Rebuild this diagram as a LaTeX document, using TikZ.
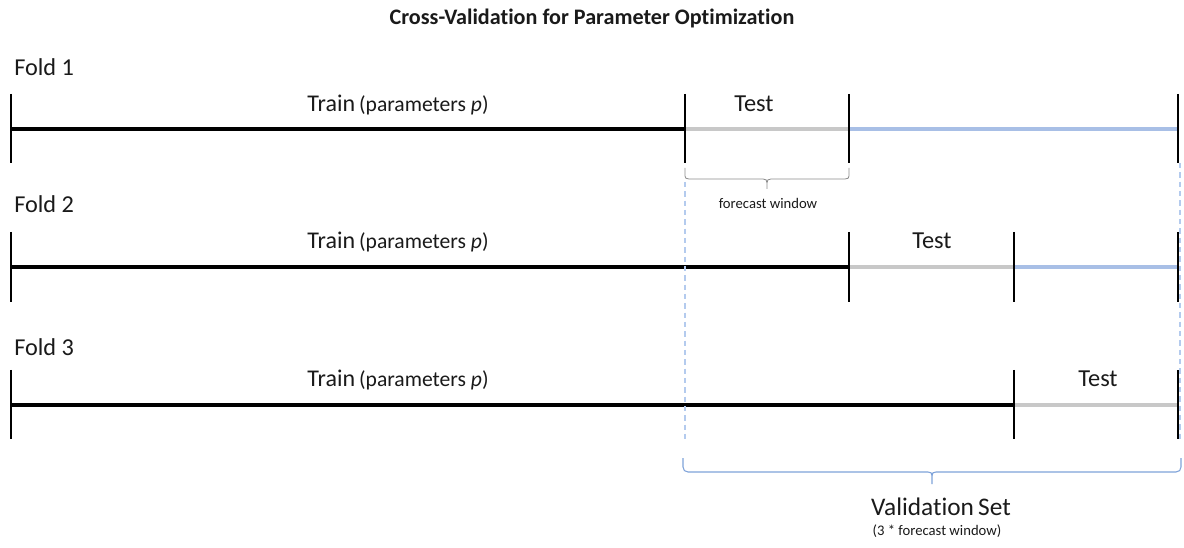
\documentclass[tikz,border=0pt]{standalone}
\usepackage{fontspec}
\setmainfont{Carlito}[Ligatures=NoCommon]
\definecolor{txt}{HTML}{1A1A1A}
\definecolor{testgray}{HTML}{C8C8C8}
\definecolor{valblue}{HTML}{A8BFE6}
\definecolor{dashblue}{HTML}{B4CBEE}
\definecolor{braceblue}{HTML}{7FA3DA}
\definecolor{bracegray}{HTML}{8C8C8C}
\tikzset{
  trainline/.style={line width=3pt, black},
  testline/.style={line width=3pt, testgray},
  restline/.style={line width=3pt, valblue},
  tickline/.style={line width=1.4pt, black},
  guide/.style={dashed, dashblue, line width=0.8pt, dash pattern=on 4pt off 3pt},
  foldlbl/.style={anchor=base west, inner sep=0pt, font=\fontsize{18.2}{21}\selectfont, text=txt},
  trainlbl/.style={anchor=base, inner sep=0pt, font=\fontsize{18}{21}\selectfont, text=txt},
  testlbl/.style={anchor=base, inner sep=0pt, font=\fontsize{18.3}{21}\selectfont, text=txt},
}
\newcommand{\paramtxt}{{\fontsize{16.2}{19}\selectfont (parameters \textit{p})}}
\begin{document}
\begin{tikzpicture}[x=0.75pt,y=-0.75pt]
\useasboundingbox[fill=white] (0,0) rectangle (1184,548);

% title
\node[inner sep=0pt, font=\bfseries\fontsize{16.6}{20}\selectfont, text=txt] (title) at (592,18) {Cross-Validation for Parameter Optimization};

% ---------- Fold 1 ----------
\node[foldlbl] (f1) at (14,76) {Fold 1};
\coordinate (a1) at (11,129);
\coordinate (b1) at (685,129);
\coordinate (c1) at (849,129);
\coordinate (d1) at (1178,129);
\draw[trainline] (a1) -- (b1);
\draw[testline] (b1) -- (c1);
\draw[restline] (c1) -- (d1);
\foreach \p in {a1,b1,c1,d1} \draw[tickline] ([yshift=35*0.75pt]\p) -- ([yshift=-34*0.75pt]\p);
\node[trainlbl] (tr1) at (398,112) {Train\,\paramtxt};
\node[testlbl] (te1) at (754,112) {Test};

% forecast window brace
\coordinate (fb1) at (685,168);
\coordinate (fb2) at (849,168);
\draw[bracegray, line width=0.6pt] (fb1) -- (685,176) .. controls (685,178) and (686,179) .. (689,179) -- (763,179) .. controls (766,179) and (767,180) .. (767,183) -- (767,189)
  (767,183) .. controls (767,180) and (768,179) .. (771,179) -- (845,179) .. controls (848,179) and (849,178) .. (849,176) -- (fb2);
\node[anchor=base, inner sep=0pt, font=\fontsize{11}{13}\selectfont, text=txt] (fw) at (768,209) {forecast window};

% ---------- Fold 2 ----------
\node[foldlbl] (f2) at (14,213) {Fold 2};
\coordinate (a2) at (11,267);
\coordinate (b2) at (849,267);
\coordinate (c2) at (1014,267);
\coordinate (d2) at (1178,267);
\draw[trainline] (a2) -- (b2);
\draw[testline] (b2) -- (c2);
\draw[restline] (c2) -- (d2);
\foreach \p in {a2,b2,c2,d2} \draw[tickline] ([yshift=35*0.75pt]\p) -- ([yshift=-35*0.75pt]\p);
\node[trainlbl] (tr2) at (398,249) {Train\,\paramtxt};
\node[testlbl] (te2) at (932,249) {Test};

% ---------- Fold 3 ----------
\node[foldlbl] (f3) at (14,356) {Fold 3};
\coordinate (a3) at (11,405);
\coordinate (b3) at (1014,405);
\coordinate (c3) at (1178,405);
\draw[trainline] (a3) -- (b3);
\draw[testline] (b3) -- (c3);
\foreach \p in {a3,b3,c3} \draw[tickline] ([yshift=35*0.75pt]\p) -- ([yshift=-34*0.75pt]\p);
\node[trainlbl] (tr3) at (398,387) {Train\,\paramtxt};
\node[testlbl] (te3) at (1098,387) {Test};

% dashed guides
\coordinate (g1t) at (685,182);
\coordinate (g1b) at (685,440);
\coordinate (g2t) at (1180,163);
\coordinate (g2b) at (1180,440);
\draw[guide] (g1t) -- (g1b);
\draw[guide] (g2t) -- (g2b);

% validation brace
\coordinate (vb1) at (683,458);
\coordinate (vb2) at (1181,458);
\draw[braceblue, line width=0.8pt] (vb1) -- (683,467) .. controls (683,470) and (685,472) .. (688,472) -- (928,472) .. controls (931,472) and (932,473) .. (932,476) -- (932,484)
  (932,476) .. controls (932,473) and (933,472) .. (936,472) -- (1176,472) .. controls (1179,472) and (1181,470) .. (1181,467) -- (vb2);
\node[anchor=base, inner sep=0pt, font=\fontsize{19}{22}\selectfont, text=txt] (vs) at (941,515) {Validation\,Set};
\node[anchor=base, inner sep=0pt, font=\fontsize{11}{13}\selectfont, text=txt] (vs2) at (937,535) {(3 * forecast window)};
\end{tikzpicture}
\end{document}
